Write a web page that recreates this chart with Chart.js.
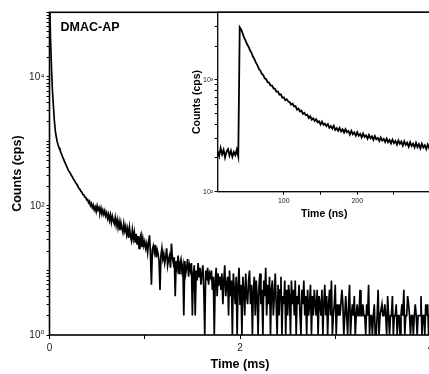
<!DOCTYPE html>
<html>
<head>
<meta charset="utf-8">
<script src="https://cdn.jsdelivr.net/npm/chart.js@4"></script>
<style>
html, body { margin: 0; padding: 0; overflow: hidden; background: #fff; width: 429px; height: 374px; }
#wrap { position: relative; width: 445px; height: 374px; }
#mainChart { position: absolute; left: 0; top: 0; }
#insetChart { position: absolute; left: 185px; top: 0; }
</style>
</head>
<body>
<div id="wrap">
  <canvas id="mainChart" width="445" height="374"></canvas>
  <canvas id="insetChart" width="260" height="225"></canvas>
</div>
<script>
// main decay, one channel every 0.01 ms from 0 to 4 ms
const mainStart = 0;
const mainStep = 0.01;
const mainCounts = [
  200000, 42000, 15000, 6500, 3700, 2200, 1500, 1200, 1000, 880,
  800, 740, 670, 615, 560, 520, 478, 445, 410, 380,
  352, 335, 318, 296, 282, 262, 250, 236, 222, 214,
  198, 186, 180, 168, 163, 150, 149, 137, 136, 124,
  126, 112, 118, 101, 109, 94, 103, 87, 96, 82,
  100, 86, 94, 79, 92, 75, 86, 74, 84, 70,
  78, 64, 74, 60, 72, 56, 69, 59, 53, 66,
  50, 61, 46, 57, 42, 55, 45, 39, 53, 41,
  48, 36, 44, 32, 46, 34, 29, 42, 31, 39,
  27, 37, 25, 34, 22, 32, 36, 23, 31, 24,
  28, 22, 26, 19, 27, 35, 18, 6, 21, 24,
  19, 25, 16, 21, 18, 14, 5, 17, 22, 15,
  18, 13, 16, 22, 12, 15, 17, 11, 26, 16,
  13, 16, 4, 14, 11, 17, 9, 13, 15, 10,
  12, 2, 14, 9, 11, 15, 8, 12, 10, 13,
  2, 9, 12, 2, 10, 7, 13, 8, 11, 6,
  9, 12, 5, 1, 10, 7, 11, 6, 9, 8,
  10, 5, 8, 1, 7, 11, 4, 9, 6, 8,
  5, 9, 3, 7, 12, 4, 6, 8, 2, 10,
  4, 7, 1, 9, 5, 3, 8, 1, 6, 11,
  3, 6, 1, 8, 5, 2, 9, 4, 3, 7,
  10, 3, 6, 1, 5, 8, 2, 7, 4, 1,
  6, 9, 3, 5, 1, 7, 4, 11, 2, 6,
  3, 8, 1, 5, 7, 2, 4, 9, 3, 1,
  6, 2, 5, 8, 1, 4, 3, 7, 1, 5,
  2, 6, 4, 1, 7, 3, 5, 2, 7, 1,
  4, 3, 6, 2, 1, 5, 3, 7, 2, 4,
  1, 5, 2, 3, 6, 1, 4, 2, 5, 3,
  2, 5, 1, 4, 3, 2, 5, 1, 3, 6,
  2, 4, 1, 3, 5, 2, 7, 1, 2, 3,
  6, 1, 3, 2, 3, 2, 2, 5, 3, 1,
  2, 4, 2, 1, 3, 6, 1, 2, 3, 2,
  4, 1, 2, 3, 2, 2, 5, 2, 2, 3,
  2, 2, 1, 3, 2, 6, 1, 2, 2, 1,
  2, 3, 1, 1, 2, 5, 1, 2, 2, 3,
  2, 2, 3, 2, 1, 4, 2, 1, 2, 2,
  4, 1, 2, 2, 3, 1, 2, 2, 1, 2,
  3, 2, 5, 1, 2, 2, 4, 3, 2, 1,
  2, 2, 1, 2, 3, 2, 1, 2, 2, 2,
  4, 1, 2, 2, 1, 3, 2, 3, 1, 2, 2
];

// inset, one channel every 2 ns from 10 to 300 ns
const insetStart = 10;
const insetStep = 2;
const insetCounts = [
  230, 208, 245, 215, 236, 202, 228, 240, 210, 232, 205, 226, 212, 238, 207,
  2940, 2800, 2590, 2370, 2230, 2070, 1970, 1830, 1740, 1610,
  1530, 1420, 1350, 1250, 1210, 1130, 1100, 1030, 1010, 950,
  940, 890, 885, 835, 830, 780, 785, 735, 740, 690,
  695, 655, 668, 640, 630, 598, 612, 578, 582, 540,
  552, 520, 530, 495, 506, 482, 488, 455, 472, 440,
  452, 428, 445, 418, 425, 398, 422, 395, 405, 385,
  402, 372, 385, 366, 388, 356, 370, 350, 372, 346,
  361, 338, 362, 340, 349, 324, 350, 326, 338, 316,
  340, 316, 328, 306, 330, 308, 318, 298, 322, 300,
  312, 290, 314, 294, 302, 283, 305, 286, 296, 278,
  298, 276, 290, 270, 292, 272, 284, 263, 287, 268,
  281, 258, 282, 262, 274, 252, 277, 256, 268, 249,
  273, 250, 266, 244, 268, 248, 260, 240, 264, 244,
  255
];

const sampleName = 'DMAC-AP';
const mainXTitle = 'Time (ms)';
const insetXTitle = 'Time (ns)';
const yTitle = 'Counts (cps)';

const mainXLabelValues = [0, 2, 4];
const mainYLabelValues = [1, 100, 10000];
const mainYLabels = ['10⁰', '10²', '10⁴'];
const insetXTickValues = [100, 150, 200, 250];
const insetXLabelValues = [100, 200];
const insetYLabelValues = [100, 1000];
const insetYLabels = ['10²', '10³'];

Chart.defaults.font.family = "'Liberation Sans', Arial, 'DejaVu Sans', sans-serif";
Chart.defaults.color = '#222';

function logTicks(fromExp, toExp) {
  const out = [];
  for (let e = fromExp; e < toExp; e++) {
    for (let m = 1; m <= 9; m++) out.push(m * Math.pow(10, e));
  }
  out.push(Math.pow(10, toExp));
  return out;
}

const frameBox = {
  id: 'frameBox',
  beforeDraw(chart, args, opts) {
    if (!opts.fill) return;
    const a = chart.chartArea;
    chart.ctx.save();
    chart.ctx.fillStyle = '#fff';
    chart.ctx.fillRect(a.left, a.top, a.right - a.left, a.bottom - a.top);
    chart.ctx.restore();
  },
  afterDraw(chart, args, opts) {
    const a = chart.chartArea;
    const ctx = chart.ctx;
    ctx.save();
    ctx.strokeStyle = '#000';
    ctx.lineWidth = opts.width || 1.5;
    ctx.strokeRect(a.left, a.top, a.right - a.left, a.bottom - a.top);
    if (opts.label) {
      ctx.fillStyle = '#000';
      ctx.font = "bold 12.5px 'Liberation Sans', Arial, sans-serif";
      ctx.textBaseline = 'middle';
      ctx.fillText(opts.label, a.left + 11, 28);
    }
    ctx.restore();
  }
};

const tickGrid = (len) => ({ drawOnChartArea: false, drawTicks: true, tickLength: len, color: '#000', lineWidth: 1 });

new Chart(document.getElementById('mainChart'), {
  type: 'line',
  data: {
    datasets: [{
      data: mainCounts.map((c, i) => ({ x: mainStart + i * mainStep, y: c })),
      borderColor: '#000',
      borderWidth: 1.7,
      pointRadius: 0,
      tension: 0,
      fill: false
    }]
  },
  options: {
    responsive: false,
    animation: false,
    layout: { padding: { left: 0, top: 12.3, right: 14.5, bottom: 0 } },
    plugins: {
      legend: { display: false },
      tooltip: { enabled: false },
      frameBox: { width: 1.6, label: sampleName }
    },
    scales: {
      x: {
        type: 'linear', min: 0, max: 4,
        grid: tickGrid(4),
        border: { display: false },
        ticks: {
          stepSize: 1, maxRotation: 0, autoSkip: false, padding: 3,
          font: { size: 10 },
          callback: (v) => mainXLabelValues.includes(v) ? String(v) : ''
        },
        title: { display: true, text: mainXTitle, color: '#000', font: { size: 12.5, weight: 'bold' }, padding: { top: 0, bottom: 2 } },
        afterFit: (s) => { s.height = 39; }
      },
      y: {
        type: 'logarithmic', min: 1, max: 100000,
        grid: tickGrid(3),
        border: { display: false },
        afterBuildTicks: (s) => { s.ticks = logTicks(0, 5).map(v => ({ value: v })); },
        ticks: {
          autoSkip: false, padding: 2,
          font: { size: 10 },
          callback: (v) => { const k = mainYLabelValues.indexOf(v); return k >= 0 ? mainYLabels[k] : ''; }
        },
        title: { display: true, text: yTitle, color: '#000', font: { size: 12.5, weight: 'bold' }, padding: { top: 10.5, bottom: 0 } },
        afterFit: (s) => { s.width = 49.5; }
      }
    }
  },
  plugins: [frameBox]
});

new Chart(document.getElementById('insetChart'), {
  type: 'line',
  data: {
    datasets: [{
      data: insetCounts.map((c, i) => ({ x: insetStart + i * insetStep, y: c })),
      borderColor: '#000',
      borderWidth: 1.8,
      pointRadius: 0,
      tension: 0,
      fill: false
    }]
  },
  options: {
    responsive: false,
    animation: false,
    layout: { padding: { left: 0, top: 12.3, right: 14.3, bottom: 0 } },
    plugins: {
      legend: { display: false },
      tooltip: { enabled: false },
      frameBox: { width: 1.3, fill: true }
    },
    scales: {
      x: {
        type: 'linear', min: 10, max: 300,
        grid: tickGrid(3),
        border: { display: false },
        afterBuildTicks: (s) => { s.ticks = insetXTickValues.map(v => ({ value: v })); },
        ticks: {
          maxRotation: 0, autoSkip: false, padding: 2,
          font: { size: 7 },
          callback: (v) => insetXLabelValues.includes(v) ? String(v) : ''
        },
        title: { display: true, text: insetXTitle, color: '#000', font: { size: 10.5, weight: 'bold' }, padding: { top: 0, bottom: 4.5 } },
        afterFit: (s) => { s.height = 33.3; }
      },
      y: {
        type: 'logarithmic', min: 100, max: 4000,
        grid: tickGrid(3),
        border: { display: false },
        afterBuildTicks: (s) => { s.ticks = logTicks(2, 3).concat([2000, 3000, 4000]).map(v => ({ value: v })); },
        ticks: {
          autoSkip: false, padding: 1.5,
          font: { size: 7 },
          callback: (v) => { const k = insetYLabelValues.indexOf(v); return k >= 0 ? insetYLabels[k] : ''; }
        },
        title: { display: true, text: yTitle, color: '#000', font: { size: 10.5, weight: 'bold' }, padding: { top: 5.7, bottom: 0 } },
        afterFit: (s) => { s.width = 32.7; }
      }
    }
  },
  plugins: [frameBox]
});
</script>
</body>
</html>
